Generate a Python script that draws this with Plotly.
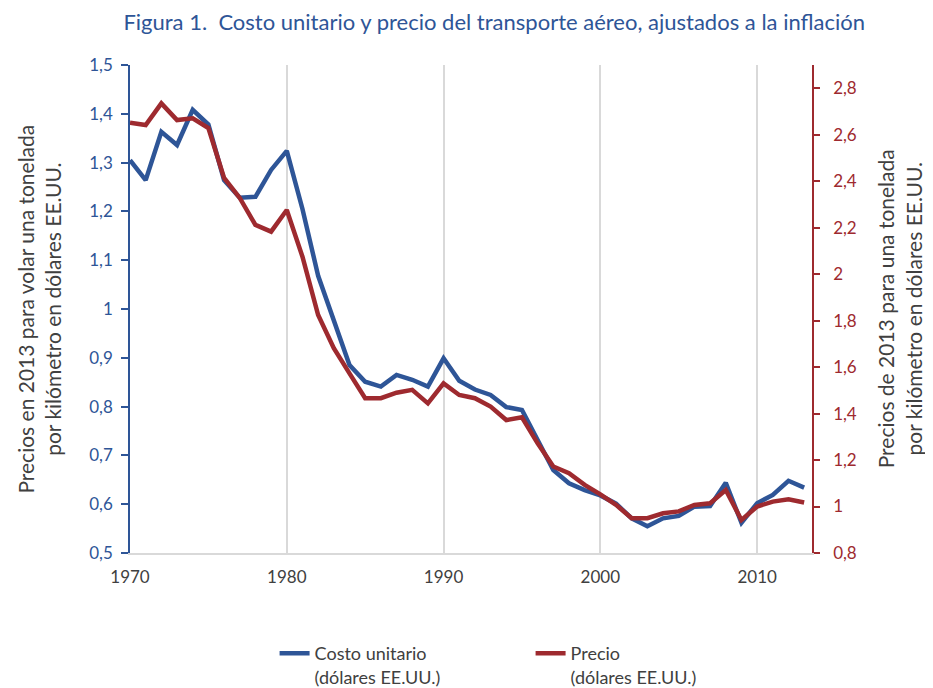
import plotly.graph_objects as go

years = list(range(1970, 2014))

costo_unitario = [
    1.305, 1.264, 1.363, 1.336, 1.408, 1.378, 1.264, 1.228, 1.230, 1.285,
    1.324, 1.205, 1.068, 0.977, 0.885, 0.851, 0.841, 0.865, 0.855, 0.841,
    0.899, 0.853, 0.835, 0.824, 0.799, 0.793, 0.732, 0.670, 0.643, 0.629,
    0.618, 0.601, 0.571, 0.555, 0.571, 0.576, 0.595, 0.596, 0.644, 0.562,
    0.602, 0.619, 0.648, 0.634,
]

precio = [
    2.652, 2.642, 2.735, 2.663, 2.671, 2.629, 2.414, 2.328, 2.212, 2.183,
    2.276, 2.075, 1.824, 1.681, 1.573, 1.466, 1.466, 1.490, 1.502, 1.444,
    1.530, 1.480, 1.466, 1.430, 1.372, 1.384, 1.272, 1.172, 1.143, 1.093,
    1.052, 1.007, 0.950, 0.950, 0.971, 0.979, 1.007, 1.014, 1.071, 0.942,
    1.000, 1.021, 1.031, 1.017,
]

left_ticks = [0.5, 0.6, 0.7, 0.8, 0.9, 1.0, 1.1, 1.2, 1.3, 1.4, 1.5]
left_labels = ["0,5", "0,6", "0,7", "0,8", "0,9", "1", "1,1", "1,2", "1,3", "1,4", "1,5"]
right_ticks = [0.8, 1.0, 1.2, 1.4, 1.6, 1.8, 2.0, 2.2, 2.4, 2.6, 2.8]
right_labels = ["0,8", "1", "1,2", "1,4", "1,6", "1,8", "2", "2,2", "2,4", "2,6", "2,8"]
x_ticks = [1970, 1980, 1990, 2000, 2010]

BLUE = "#2E5597"
RED = "#9E2A2F"
GREY = "#404040"
FONT = "Lato"

fig = go.Figure()
fig.add_trace(go.Scatter(
    x=years, y=costo_unitario, mode="lines",
    name="Costo unitario<br>(dólares EE.UU.)",
    line=dict(color=BLUE, width=4.5), yaxis="y",
))
fig.add_trace(go.Scatter(
    x=years, y=precio, mode="lines",
    name="Precio<br>(dólares EE.UU.)",
    line=dict(color=RED, width=4.5), yaxis="y2",
))

fig.update_layout(
    width=925, height=680,
    paper_bgcolor="white", plot_bgcolor="white",
    margin=dict(l=122, r=121, t=57, b=135, autoexpand=False),
    font=dict(family=FONT, size=17, color=GREY),
    title=dict(
        text="Figura 1.  Costo unitario y precio del transporte aéreo, ajustados a la inflación",
        x=0.534, xref="paper", xanchor="center", y=0.979, yanchor="middle",
        font=dict(family=FONT, size=22, color=BLUE),
    ),
    xaxis=dict(
        range=[1970, 2013.5], tickvals=x_ticks,
        showgrid=True, gridcolor="#D9D9D9", gridwidth=1.5,
        showline=True, linecolor="#D9D9D9", linewidth=1.5,
        ticks="", zeroline=False, automargin=False,
        ticklabelstandoff=8,
        tickfont=dict(size=17, color=GREY),
    ),
    yaxis=dict(
        range=[0.5, 1.5], tickvals=left_ticks, ticktext=left_labels,
        showgrid=False, zeroline=False, automargin=False,
        showline=True, linecolor=BLUE, linewidth=1.5,
        ticks="outside", ticklen=7, tickcolor=BLUE, tickwidth=1.5,
        ticklabelstandoff=5,
        tickfont=dict(size=17, color=BLUE),
    ),
    yaxis2=dict(
        range=[0.8, 2.9], tickvals=right_ticks, ticktext=right_labels,
        overlaying="y", side="right",
        showgrid=False, zeroline=False, automargin=False,
        showline=True, linecolor=RED, linewidth=1.5,
        ticks="outside", ticklen=6, tickcolor=RED, tickwidth=1.5,
        ticklabelstandoff=10,
        tickfont=dict(size=17, color=RED),
    ),
    legend=dict(
        orientation="h", xref="paper", x=0.212, xanchor="left",
        yref="container", y=0.078, yanchor="top",
        valign="top", entrywidth=211,
        font=dict(size=18, color=GREY),
    ),
    showlegend=True,
    annotations=[
        dict(
            text="Precios en 2013 para volar una tonelada<br>por kilómetro en dólares EE.UU.",
            xref="paper", yref="paper", x=-0.134, y=0.5,
            xanchor="center", yanchor="middle", textangle=-90,
            showarrow=False, font=dict(size=21, color=GREY),
        ),
        dict(
            text="Precios de 2013 para una tonelada<br>por kilómetro en dólares EE.UU.",
            xref="paper", yref="paper", x=1.128, y=0.5,
            xanchor="center", yanchor="middle", textangle=-90,
            showarrow=False, font=dict(size=21, color=GREY),
        ),
    ],
)

fig.write_html("out.html")
